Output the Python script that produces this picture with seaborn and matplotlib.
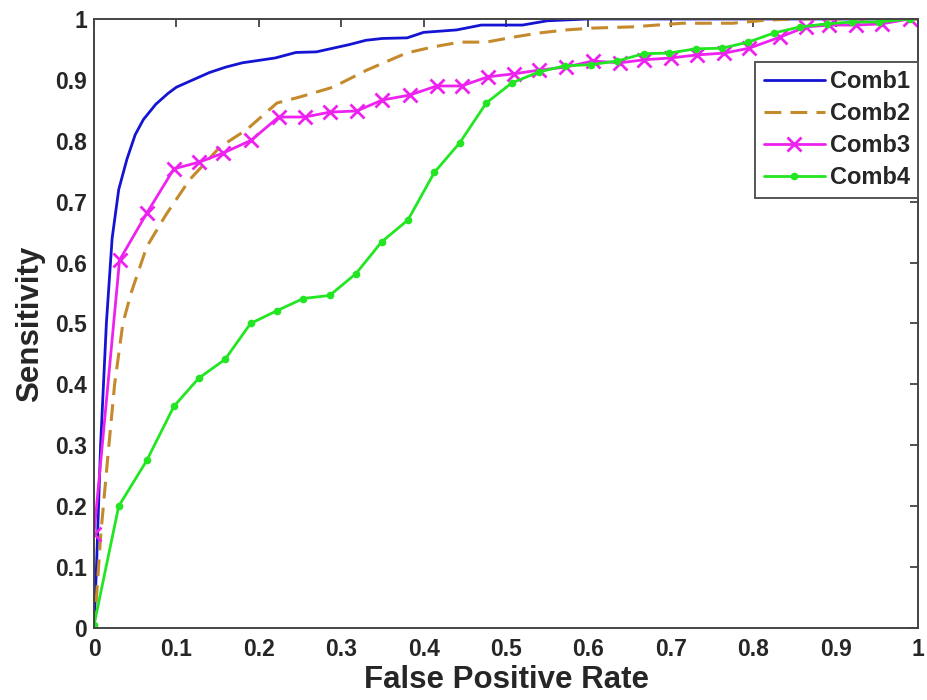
import matplotlib
matplotlib.use("Agg")
import matplotlib.pyplot as plt
import seaborn as sns

# ROC curves for four feature combinations
fpr_comb1 = [0.0, 0.003, 0.008, 0.015, 0.022, 0.03, 0.04, 0.05, 0.06, 0.075, 0.09, 0.1,
             0.12, 0.14, 0.16, 0.18, 0.2, 0.22, 0.245, 0.27, 0.29, 0.31, 0.33, 0.35,
             0.38, 0.4, 0.44, 0.47, 0.52, 0.55, 0.6, 1.0]
tpr_comb1 = [0.0, 0.1, 0.3, 0.5, 0.64, 0.72, 0.77, 0.81, 0.835, 0.86, 0.878, 0.888,
             0.9, 0.912, 0.921, 0.928, 0.932, 0.936, 0.945, 0.946, 0.952, 0.958, 0.965, 0.968,
             0.969, 0.978, 0.982, 0.99, 0.99, 0.997, 1.0, 1.0]

fpr_comb2 = [0.0, 0.003, 0.008, 0.016, 0.025, 0.035, 0.045, 0.064, 0.088, 0.116, 0.153,
             0.185, 0.222, 0.25, 0.29, 0.331, 0.379, 0.411, 0.444, 0.476, 0.508, 0.54,
             0.573, 0.605, 0.653, 0.714, 0.775, 0.815, 0.85, 1.0]
tpr_comb2 = [0.0, 0.05, 0.15, 0.27, 0.4, 0.5, 0.55, 0.626, 0.68, 0.736, 0.79,
             0.818, 0.862, 0.872, 0.888, 0.916, 0.944, 0.954, 0.962, 0.962, 0.97, 0.977,
             0.982, 0.985, 0.987, 0.993, 0.993, 0.998, 1.0, 1.0]

fpr_comb3 = [0.0, 0.031, 0.064, 0.097, 0.128, 0.157, 0.191, 0.224, 0.256, 0.286, 0.319,
             0.35, 0.383, 0.416, 0.446, 0.478, 0.51, 0.54, 0.573, 0.605, 0.638, 0.668,
             0.70, 0.732, 0.765, 0.795, 0.832, 0.864, 0.892, 0.925, 0.956, 0.99]
tpr_comb3 = [0.155, 0.604, 0.681, 0.754, 0.765, 0.78, 0.801, 0.839, 0.839, 0.847, 0.849,
             0.867, 0.875, 0.89, 0.89, 0.905, 0.91, 0.916, 0.921, 0.931, 0.928, 0.933,
             0.936, 0.941, 0.944, 0.952, 0.97, 0.987, 0.99, 0.99, 0.992, 1.0]

fpr_comb4 = [0.0, 0.03, 0.064, 0.097, 0.127, 0.159, 0.19, 0.222, 0.254, 0.286, 0.318,
             0.349, 0.381, 0.413, 0.444, 0.476, 0.507, 0.54, 0.571, 0.603, 0.635, 0.667,
             0.698, 0.73, 0.762, 0.794, 0.825, 0.857, 0.889, 0.92, 0.952, 0.99]
tpr_comb4 = [0.005, 0.2, 0.275, 0.364, 0.41, 0.441, 0.5, 0.521, 0.541, 0.546, 0.582,
             0.634, 0.67, 0.748, 0.797, 0.862, 0.895, 0.913, 0.923, 0.925, 0.931, 0.943,
             0.944, 0.951, 0.952, 0.962, 0.977, 0.987, 0.992, 0.995, 0.995, 1.0]

labels = ["Comb1", "Comb2", "Comb3", "Comb4"]
x_ticks = [0, 0.1, 0.2, 0.3, 0.4, 0.5, 0.6, 0.7, 0.8, 0.9, 1]
x_ticklabels = ["0", "0.1", "0.2", "0.3", "0.4", "0.5", "0.6", "0.7", "0.8", "0.9", "1"]
y_ticks = x_ticks
y_ticklabels = x_ticklabels

sns.set_style("white")
plt.rcParams['font.family'] = ['Liberation Sans', 'DejaVu Sans']
plt.rcParams['font.weight'] = 'bold'

fig = plt.figure(figsize=(9.28, 7), dpi=100)
ax = fig.add_axes([0.1013, 0.1029, 0.888, 0.870])

c1, c2, c3, c4 = "#1414D2", "#C48A2C", "#EE22EE", "#22E622"

sns.lineplot(x=fpr_comb1, y=tpr_comb1, ax=ax, sort=False, estimator=None,
             color=c1, linewidth=2.0, label=labels[0])
sns.lineplot(x=fpr_comb2, y=tpr_comb2, ax=ax, sort=False, estimator=None,
             color=c2, linewidth=2.2, label=labels[1])
sns.lineplot(x=fpr_comb3, y=tpr_comb3, ax=ax, sort=False, estimator=None,
             color=c3, linewidth=2.0, marker="x", markersize=10.5,
             markeredgewidth=2.0, markeredgecolor=c3, label=labels[2])
sns.lineplot(x=fpr_comb4, y=tpr_comb4, ax=ax, sort=False, estimator=None,
             color=c4, linewidth=2.0, marker="o", markersize=5.5,
             markeredgewidth=0, markerfacecolor=c4, label=labels[3])

# dashed style for the second combination
for ln in ax.lines:
    if ln.get_label() == labels[1]:
        ln.set_dashes([5.5, 3])

ax.set_xlim(0, 1)
ax.set_ylim(0, 1)
ax.set_xticks(x_ticks)
ax.set_xticklabels(x_ticklabels)
ax.set_yticks(y_ticks)
ax.set_yticklabels(y_ticklabels)
ax.tick_params(axis="both", direction="in", length=6, width=1.2, color="#333333",
               top=True, right=True, labelsize=16.5)
ax.tick_params(axis="x", pad=7)
ax.tick_params(axis="y", pad=5)
for lab in ax.get_xticklabels() + ax.get_yticklabels():
    lab.set_fontweight("bold")
for sp in ax.spines.values():
    sp.set_visible(True)
    sp.set_color("#444444")
    sp.set_linewidth(1.4)

ax.set_xlabel("False Positive Rate", fontsize=22.5, fontweight="bold", labelpad=3)
ax.set_ylabel("Sensitivity", fontsize=22.5, fontweight="bold", labelpad=7)

leg = ax.legend(loc="upper right", bbox_to_anchor=(1.0, 0.929), borderaxespad=0,
                fancybox=False, framealpha=1, edgecolor="#555555", fontsize=17,
                handlelength=2.6, handletextpad=0.2, labelspacing=0.38,
                borderpad=0.35)
leg.get_frame().set_linewidth(1.4)
for t in leg.get_texts():
    t.set_fontweight("bold")

fig.savefig("out.png", dpi=100)
